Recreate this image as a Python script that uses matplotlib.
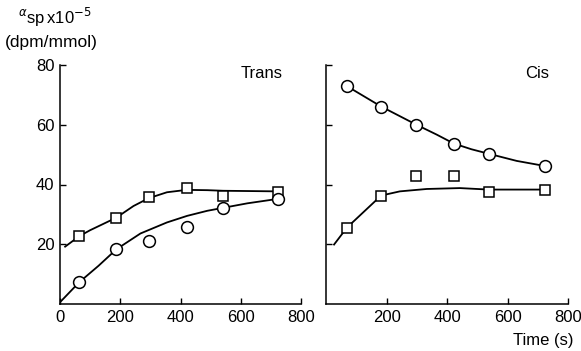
import matplotlib
matplotlib.use("Agg")
import matplotlib.pyplot as plt

plt.rcParams['font.family'] = ['Liberation Sans', 'DejaVu Sans']

# Trans panel data (time in s, alpha_sp x 1e-5 dpm/mmol)
trans_t = [64, 187, 294, 420, 542, 724]
trans_sq = [22.7, 28.9, 35.7, 38.9, 36.2, 37.6]
trans_ci = [7.3, 18.3, 21.2, 25.7, 32.2, 35.0]

# Trans fitted curves
trans_sq_fit_t = [17, 64, 100, 187, 244, 294, 355, 420, 489, 542, 724]
trans_sq_fit_y = [19.2, 22.7, 24.7, 28.9, 32.8, 35.4, 37.4, 38.2, 38.1, 37.9, 37.7]
trans_ci_fit_t = [2, 64, 128, 187, 267, 355, 422, 489, 542, 622, 724]
trans_ci_fit_y = [0.8, 7.3, 12.8, 18.3, 23.6, 27.3, 29.5, 31.2, 32.2, 33.7, 35.2]

# Cis panel data
cis_t = [68, 181, 298, 422, 537, 723]
cis_ci = [72.9, 66.1, 60.0, 53.5, 50.3, 46.2]
cis_sq = [25.6, 36.3, 43.0, 43.0, 37.4, 38.3]

# Cis fitted curves
cis_ci_fit_t = [68, 181, 298, 365, 422, 480, 537, 630, 723]
cis_ci_fit_y = [72.9, 66.1, 60.0, 56.7, 53.7, 51.8, 50.3, 47.9, 46.2]
cis_sq_fit_t = [25, 68, 181, 243, 332, 442, 537, 723]
cis_sq_fit_y = [19.9, 25.6, 36.3, 37.7, 38.5, 38.8, 38.3, 38.3]

W, H = 581, 351
fig = plt.figure(figsize=(W / 100, H / 100), dpi=100)
ax1 = fig.add_axes([60 / W, 47 / H, 241 / W, 239 / H])
ax2 = fig.add_axes([326.5 / W, 47 / H, 241.5 / W, 239 / H])

mk = dict(color='black', linestyle='none', markerfacecolor='white',
          markeredgecolor='black', markeredgewidth=1.1, zorder=3)

ax1.plot(trans_sq_fit_t, trans_sq_fit_y, color='black', lw=1.3, zorder=2)
ax1.plot(trans_ci_fit_t, trans_ci_fit_y, color='black', lw=1.3, zorder=2)
ax1.plot(trans_t, trans_sq, marker='s', markersize=7, **mk)
ax1.plot(trans_t, trans_ci, marker='o', markersize=8.5, **mk)

ax2.plot(cis_ci_fit_t, cis_ci_fit_y, color='black', lw=1.3, zorder=2)
ax2.plot(cis_sq_fit_t, cis_sq_fit_y, color='black', lw=1.3, zorder=2)
ax2.plot(cis_t, cis_ci, marker='o', markersize=8.5, **mk)
ax2.plot(cis_t, cis_sq, marker='s', markersize=7, **mk)

for ax in (ax1, ax2):
    ax.set_xlim(0, 800)
    ax.set_ylim(0, 80)
    ax.spines['top'].set_visible(False)
    ax.spines['right'].set_visible(False)
    for s in ('left', 'bottom'):
        ax.spines[s].set_linewidth(1.1)
    ax.tick_params(direction='in', length=4, width=1.0, labelsize=12, pad=4)
    ax.set_yticks([20, 40, 60, 80])

ax1.set_xticks([0, 200, 400, 600, 800])
ax2.set_xticks([200, 400, 600, 800])
ax2.set_yticklabels([])

# panel labels
fig.text(262 / W, 1 - 73 / H, 'Trans', ha='center', va='center', fontsize=12)
fig.text(537 / W, 1 - 74 / H, 'Cis', ha='center', va='center', fontsize=12)

fig.text(543 / W, 1 - 340 / H, 'Time (s)', ha='center', va='center', fontsize=12)
fig.text(18 / W, 1 - 17 / H, r'$^{\alpha}$sp$\,$x10$^{-5}$', ha='left', va='center', fontsize=12)
fig.text(5 / W, 1 - 43 / H, '(dpm/mmol)', ha='left', va='center', fontsize=12.5)

fig.savefig('out.png', dpi=100)
